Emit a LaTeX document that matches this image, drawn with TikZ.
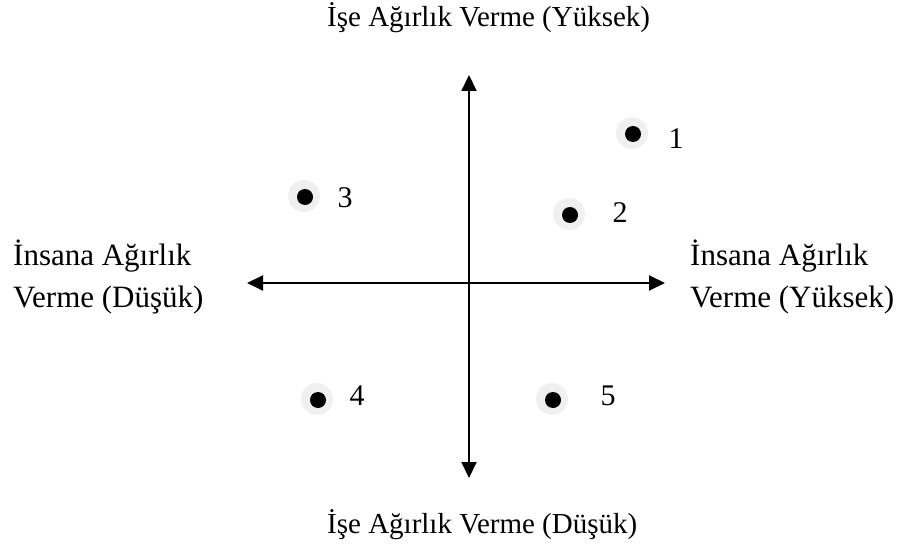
\documentclass[tikz,border=0pt]{standalone}
\usepackage{fontspec}
\setmainfont{Liberation Serif}
\usetikzlibrary{arrows.meta}
\begin{document}
\begin{tikzpicture}[x=1pt,y=-1pt,
  axisline/.style={line width=2pt, {Triangle[length=16pt,width=15pt]}-{Triangle[length=16pt,width=15pt]}},
  halo/.style={fill=black!6, draw=none},
  dotmark/.style={fill=black, draw=none},
  lbl/.style={inner sep=0pt, font=\fontsize{30}{43}\selectfont},
  txt/.style={inner sep=0pt, anchor=base west, font=\fontsize{31}{43}\selectfont},
  ttxt/.style={inner sep=0pt, anchor=base west, font=\fontsize{29}{43}\selectfont}]
\useasboundingbox (0,0) rectangle (904,548);
% axes
\coordinate (top) at (469,75);
\coordinate (bottom) at (469,478);
\coordinate (left) at (247,283);
\coordinate (right) at (665,283);
\draw[axisline] (bottom) -- (top);
\draw[axisline] (left) -- (right);
% points
\foreach \n/\x/\y/\lx/\ly in {1/633/134/676/139, 2/570/215/620/213, 3/305/197/345/198, 4/318/400/357/396, 5/553/400/608/396}{
  \fill[halo] (\x-1,\y-1) circle (16);
  \fill[dotmark] (\x,\y) circle (8);
  \node[lbl] (p\n) at (\lx,\ly) {\n};
}
% axis texts
\node[ttxt] (ttop) at (327,27) {İşe Ağırlık Verme (Yüksek)};
\node[ttxt] (tbot) at (327,533) {İşe Ağırlık Verme (Düşük)};
\node[txt] (tl1) at (13,265) {İnsana Ağırlık};
\node[txt] (tl2) at (13,307) {Verme (Düşük)};
\node[txt] (tr1) at (690,265) {İnsana Ağırlık};
\node[txt] (tr2) at (690,307) {Verme (Yüksek)};
\end{tikzpicture}
\end{document}
